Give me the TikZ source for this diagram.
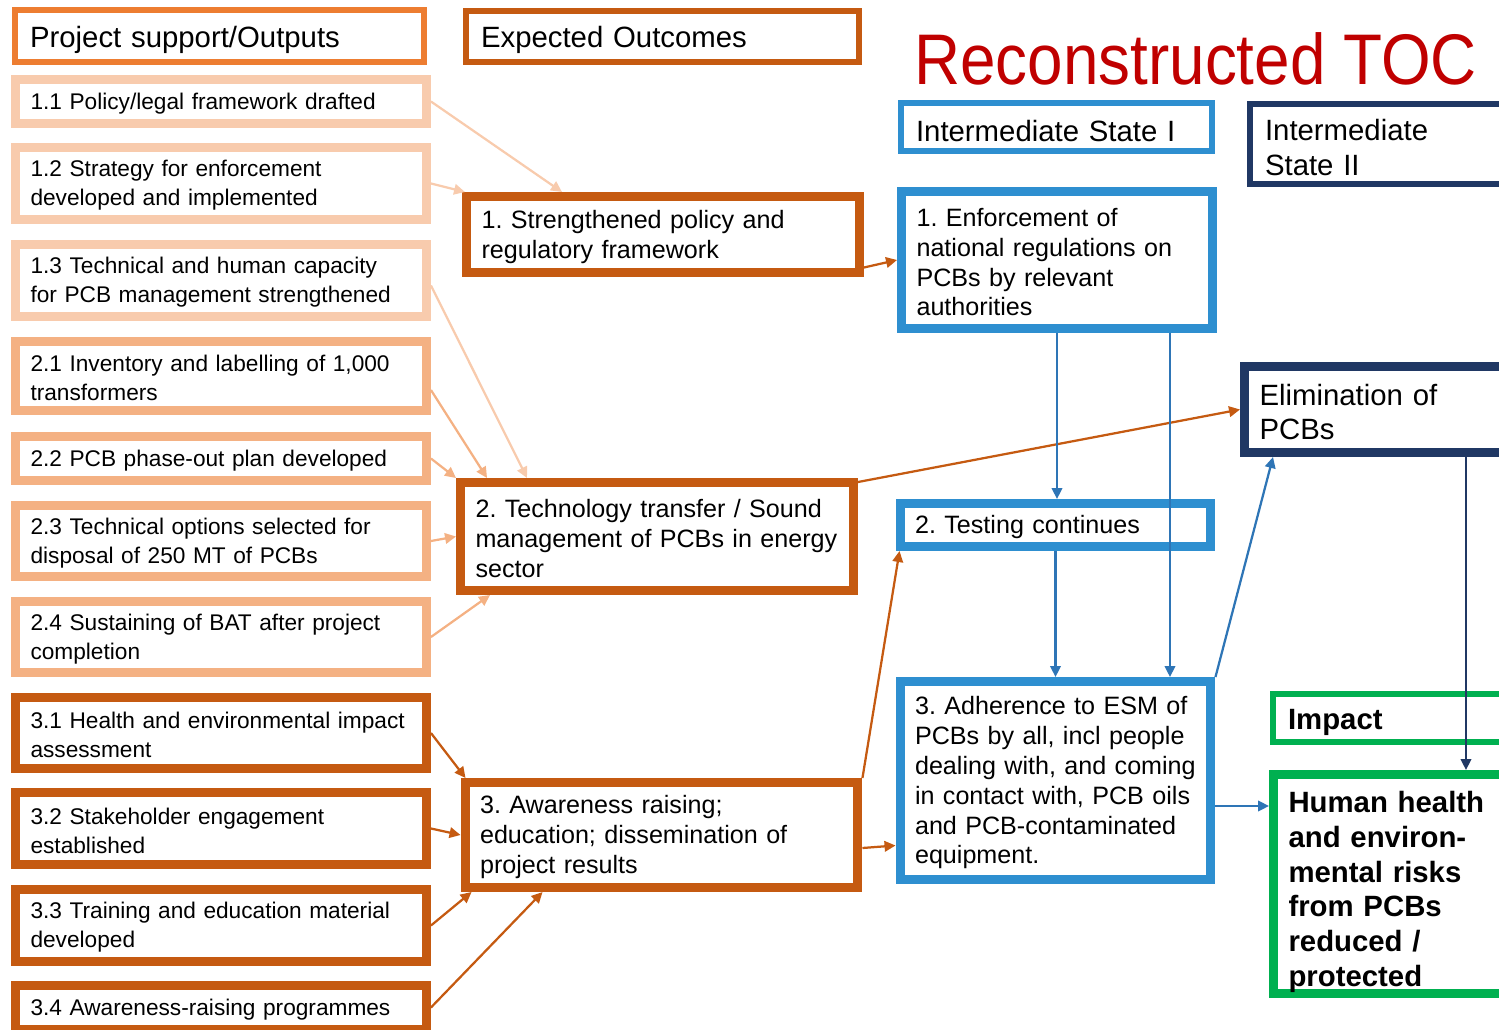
\documentclass[tikz,border=0pt]{standalone}
\usepackage{fontspec}
\setmainfont{Liberation Sans}
\newfontfamily\titlefont{Liberation Sans}[FakeStretch=0.89]
\usetikzlibrary{arrows.meta}
\definecolor{hdrorange}{HTML}{ED7D31}
\definecolor{lightpeach}{HTML}{F8CBAD}
\definecolor{peach}{HTML}{F4B183}
\definecolor{rust}{HTML}{C55A11}
\definecolor{stateblue}{HTML}{2E8FD0}
\definecolor{linkblue}{HTML}{2E75B6}
\definecolor{navy}{HTML}{203864}
\definecolor{impactgreen}{HTML}{00B050}
\definecolor{tocred}{HTML}{C00000}
\newcommand\outfont{\fontsize{12.9}{16.4}\selectfont}
\newcommand\midfont{\fontsize{14.3}{17}\selectfont}
\newcommand\headfont{\fontsize{16.7}{19.8}\selectfont}
\frenchspacing
\tikzset{
  drop/.style={execute at begin node={\rule{0pt}{#1}}},
  tocbox/.style={draw, fill=white, align=left, inner xsep=0.3cm, inner ysep=0pt, drop=0.9em},
  headbox/.style={tocbox, line width=0.12cm, font=\headfont, draw=#1, drop=0.97em},
  outbox/.style={tocbox, line width=0.18cm, text width=7.62cm, font=\outfont, draw=#1},
  midbox/.style={tocbox, line width=0.18cm, text width=7.26cm, font=\midfont, draw=rust},
  statebox/.style={tocbox, line width=0.18cm, text width=5.62cm, font=\midfont, draw=stateblue},
  link/.style={-{Triangle[length=0.22cm,width=0.21cm]}, line width=0.045cm}
}
\begin{document}
\begin{tikzpicture}[x=0.02cm, y=-0.02cm]
  \useasboundingbox (0,0) rectangle (1499,1029);

  \node[headbox=hdrorange, text width=7.58cm, minimum height=1.04cm] (hout) at (219.5,36) {Project support/Outputs};
  \node[headbox=rust, text width=7.26cm, minimum height=1.02cm] (hexp) at (662.5,36.5) {Expected Outcomes};
  \node[headbox=stateblue, text width=5.62cm, minimum height=0.96cm] (hisa) at (1056.5,127) {Intermediate State I};
  \node[headbox=navy, text width=4.54cm, minimum height=1.6cm] (hisb) at (1378.5,144) {Intermediate\\State II};
  \node[headbox=impactgreen, text width=4.08cm, minimum height=0.96cm, font=\headfont\bfseries] (himp) at (1390,718) {Impact};
  \node[font=\titlefont\fontsize{40.8}{45}\selectfont, text=tocred, anchor=base west, inner sep=0pt] (title) at (914,84) {Reconstructed TOC};

  \node[outbox=lightpeach, minimum height=0.88cm] (o11) at (221,101.5) {1.1 Policy/legal framework drafted};
  \node[outbox=lightpeach, minimum height=1.44cm] (o12) at (221,183.5) {1.2 Strategy for enforcement\\developed and implemented};
  \node[outbox=lightpeach, minimum height=1.44cm] (o13) at (221,280.5) {1.3 Technical and human capacity\\for PCB management strengthened};
  \node[outbox=peach, minimum height=1.38cm] (o21) at (221,376) {2.1 Inventory and labelling of 1,000\\transformers};
  \node[outbox=peach, minimum height=0.88cm] (o22) at (221,458.5) {2.2 PCB phase-out plan developed};
  \node[outbox=peach, minimum height=1.42cm] (o23) at (221,541) {2.3 Technical options selected for\\disposal of 250 MT of PCBs};
  \node[outbox=peach, minimum height=1.42cm] (o24) at (221,637) {2.4 Sustaining of BAT after project\\completion};
  \node[outbox=rust, minimum height=1.42cm] (o31) at (221,733) {3.1 Health and environmental impact\\assessment};
  \node[outbox=rust, minimum height=1.44cm] (o32) at (221,828.5) {3.2 Stakeholder engagement\\established};
  \node[outbox=rust, minimum height=1.44cm] (o33) at (221,925.5) {3.3 Training and education material\\developed};
  \node[outbox=rust, minimum height=0.88cm] (o34) at (221,1007.5) {3.4 Awareness-raising programmes};

  \node[midbox, minimum height=1.52cm] (sp1) at (663,234.5) {1. Strengthened policy and\\regulatory framework};
  \node[midbox, minimum height=2.16cm] (sp2) at (657,536.5) {2. Technology transfer / Sound\\management of PCBs in energy\\sector};
  \node[midbox, minimum height=2.1cm] (sp3) at (661.5,835) {3. Awareness raising;\\education; dissemination of\\project results};

  \node[statebox, minimum height=2.74cm] (is1) at (1057,260) {1. Enforcement of\\national regulations on\\PCBs by relevant\\authorities};
  \node[statebox, minimum height=0.86cm] (is2) at (1055.5,525) {2. Testing continues};
  \node[statebox, minimum height=3.96cm] (is3) at (1055.5,780.5) {3. Adherence to ESM of\\PCBs by all, incl people\\dealing with, and coming\\in contact with, PCB oils\\and PCB-contaminated\\equipment.};
  \node[tocbox, line width=0.18cm, draw=navy, text width=4.62cm, minimum height=1.72cm, font=\headfont] (elim) at (1375,409.5) {Elimination of\\PCBs};
  \node[tocbox, line width=0.18cm, draw=impactgreen, text width=4.04cm, minimum height=4.38cm, font=\headfont\bfseries, drop=1.27em] (human) at (1389.5,884) {Human health\\and environ-\\mental risks\\from PCBs\\reduced /\\protected};

  \draw[link, lightpeach] (o11.east) -- ([xshift=2cm]sp1.north west);
  \draw[link, lightpeach] (o12.east) -- ([xshift=0.06cm]sp1.north west);
  \draw[link, lightpeach] ([yshift=-0.1cm]o13.east) -- ([xshift=1.42cm]sp2.north west);
  \draw[link, peach] ([yshift=-0.28cm]o21.east) -- ([xshift=0.62cm]sp2.north west);
  \draw[link, peach] (o22.east) -- (sp2.north west);
  \draw[link, peach] (o23.east) -- (sp2.west);
  \draw[link, peach] (o24.east) -- ([xshift=0.68cm]sp2.south west);
  \draw[link, rust] (o31.east) -- ([xshift=0.1cm]sp3.north west);
  \draw[link, rust] (o32.east) -- (sp3.west);
  \draw[link, rust] (o33.east) -- ([xshift=0.22cm]sp3.south west);
  \draw[link, rust] (o34.east) -- ([xshift=1.64cm]sp3.south west);

  \draw[link, rust] ([yshift=-0.66cm]sp1.east) -- (is1.west);
  \draw[link, rust] ([yshift=-0.08cm]sp2.north east) -- (elim.west);
  \draw[link, rust] (sp3.north east) -- ([xshift=0.08cm]is2.south west);
  \draw[link, rust] ([yshift=-0.26cm]sp3.east) -- ([yshift=-1.3cm]is3.west);

  \draw[link, linkblue] (is1.south) -- (is1.south |- is2.north);
  \draw[link, linkblue] ([xshift=2.26cm]is1.south) -- ([xshift=2.26cm]is1.south |- is3.north);
  \draw[link, linkblue] (is2.south) -- (is2.south |- is3.north);
  \draw[link, linkblue] (is3.north east) -- ([xshift=0.66cm]elim.south west);
  \draw[link, linkblue] ([yshift=-0.51cm]is3.east) -- ([yshift=-0.51cm]is3.east -| human.west);
  \draw[link, navy] ([xshift=1.82cm]elim.south) -- ([xshift=1.82cm]elim.south |- human.north);
\end{tikzpicture}
\end{document}
